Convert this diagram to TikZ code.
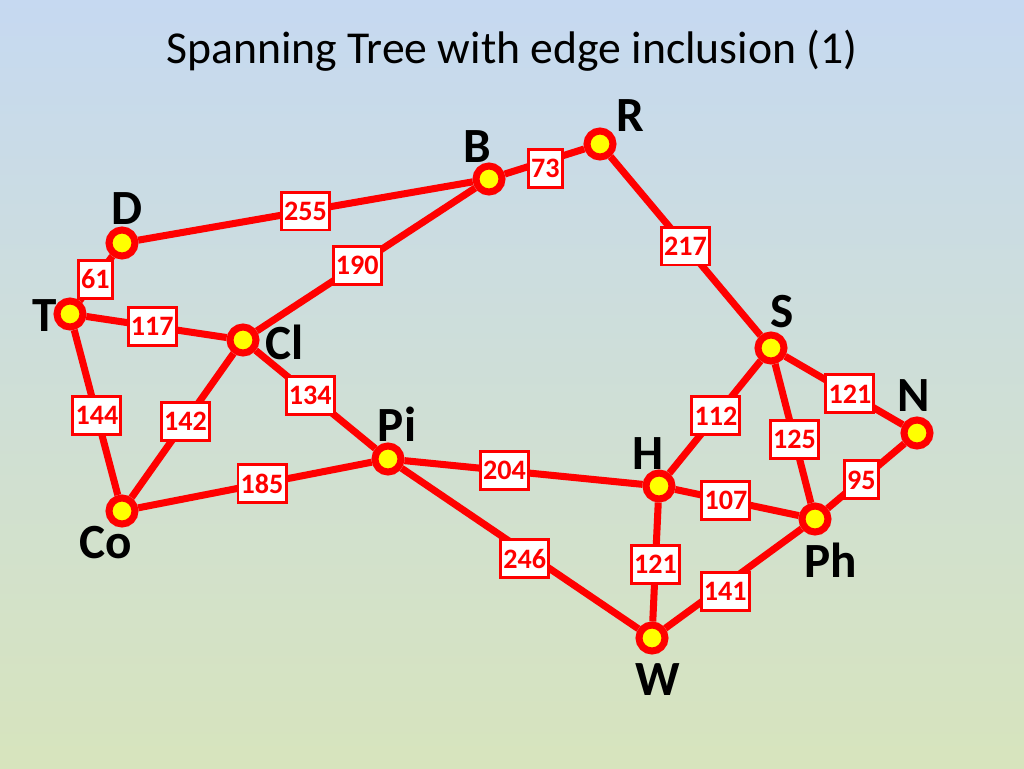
\documentclass[tikz,border=0pt]{standalone}
\usepackage{fontspec}
\setmainfont{Carlito}
\usepackage{xcolor}
\usetikzlibrary{positioning}
\definecolor{Sky}{HTML}{C6D9F1}
\definecolor{Meadow}{HTML}{D7E4BD}
\definecolor{Road}{HTML}{FF0000}
\definecolor{Dot}{HTML}{FFFF00}
\pgfdeclarelayer{back}
\pgfdeclarelayer{roads}
\pgfsetlayers{back,roads,main}

\begin{document}
\begin{tikzpicture}[
  x=0.02cm,y=-0.02cm,
  city/.style={circle,draw=Road,fill=Dot,line width=4pt,minimum size=0.52cm,inner sep=0pt},
  cityname/.style={font=\fontsize{28}{28}\selectfont\bfseries,inner sep=0pt},
  road/.style={draw=Road,line width=4pt},
  weight/.style={draw=Road,fill=white,line width=1.7pt,text=Road,font=\fontsize{16}{16}\selectfont\bfseries,minimum height=0.76cm,inner xsep=1.5pt,inner ysep=0pt}
]
\begin{pgfonlayer}{back}
\fill[top color=Sky,bottom color=Meadow] (0,0) rectangle (1024,768);
\end{pgfonlayer}
\node[font=\fontsize{26}{26}\selectfont] (title) at (512,51) {Spanning Tree with edge inclusion (1)};
% cities
\node[city] (R) at (600,144) {};
\node[city] (B) at (489,179) {};
\node[city] (D) at (122,243) {};
\node[city] (T) at (70,314) {};
\node[city] (Cl) at (243,340) {};
\node[city] (S) at (771,348) {};
\node[city] (N) at (917,433) {};
\node[city] (Pi) at (388,459) {};
\node[city] (H) at (659,486) {};
\node[city] (Ph) at (815,519) {};
\node[city] (Co) at (122,511) {};
\node[city] (W) at (652,638) {};
% names
\node[cityname] (R-name) at (630,116) {R};
\node[cityname] (B-name) at (477,147) {B};
\node[cityname] (D-name) at (127,209) {D};
\node[cityname] (T-name) at (45,316) {T};
\node[cityname] (Cl-name) at (285,342) {Cl};
\node[cityname] (S-name) at (782,312) {S};
\node[cityname] (N-name) at (914,396) {N};
\node[cityname] (Pi-name) at (397,424) {Pi};
\node[cityname] (H-name) at (648,454) {H};
\node[cityname] (Ph-name) at (831,560) {Ph};
\node[cityname] (Co-name) at (106,543) {Co};
\node[cityname] (W-name) at (658,680) {W};
% roads
\begin{pgfonlayer}{roads}
\foreach \a/\b/\w/\p/\dy in {B/R/73/0.51/-4, D/B/255/0.50/0, Cl/B/190/0.46/0, T/D/61/0.48/0,
    T/Cl/117/0.47/0, R/S/217/0.50/0, S/N/121/0.55/0, T/Co/144/0.52/0, Co/Cl/142/0.53/0,
    Cl/Pi/134/0.455/0, Pi/H/204/0.42/0, H/S/112/0.51/0, S/Ph/125/0.54/0, N/Ph/95/0.56/0,
    H/Ph/107/0.41/0, Co/Pi/185/0.53/0, Pi/W/246/0.52/-4, H/W/121/0.52/0, W/Ph/141/0.44/-4}
  \draw[road] (\a) -- node[weight,pos=\p,yshift=\dy pt] {\w} (\b);
\end{pgfonlayer}
\end{tikzpicture}
\end{document}
